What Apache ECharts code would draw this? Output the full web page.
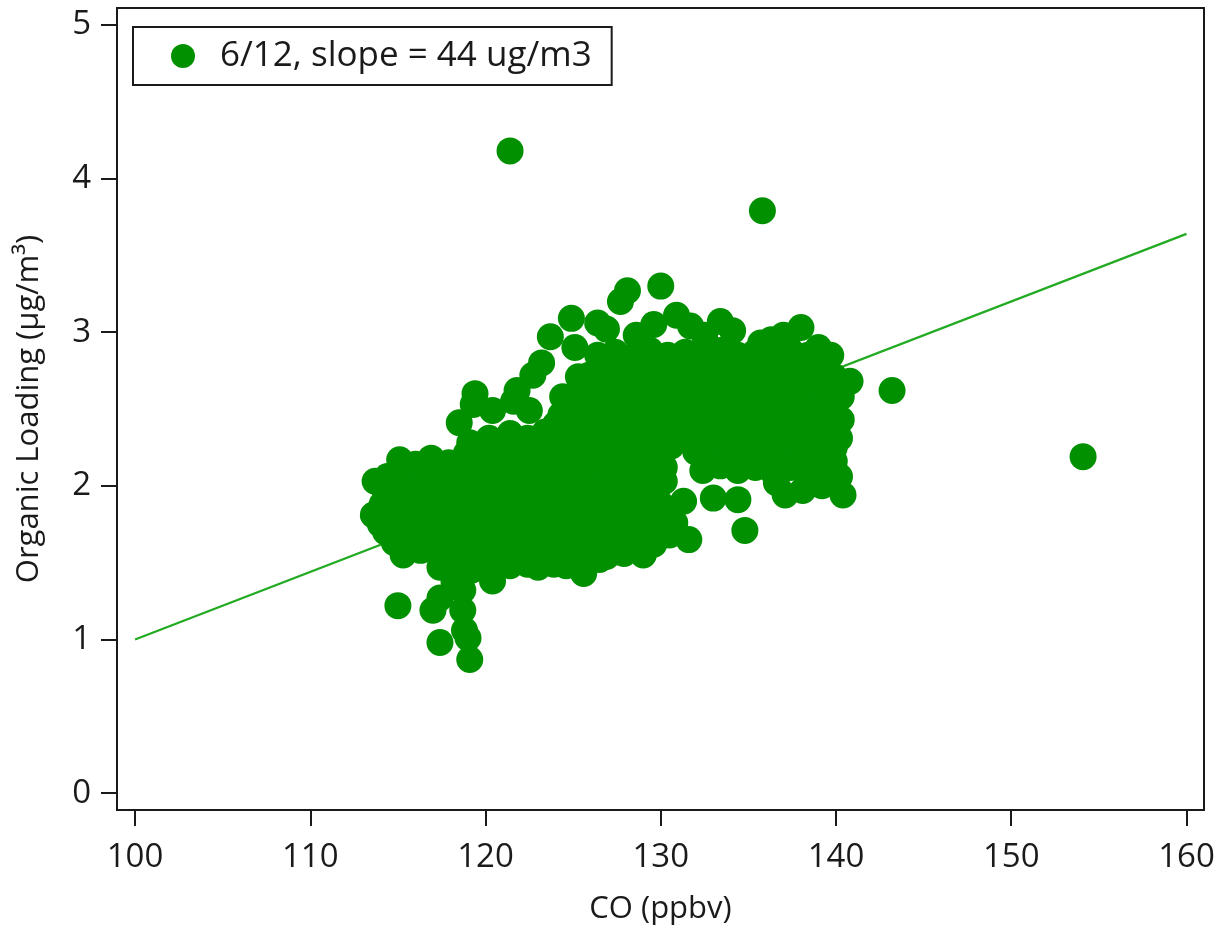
<!DOCTYPE html>
<html>
<head>
<meta charset="utf-8">
<title>Organic Loading vs CO</title>
<script src="https://cdn.jsdelivr.net/npm/echarts@6/dist/echarts.min.js"></script>
<style>
  html, body { margin: 0; padding: 0; background: #fff; }
  #chart { width: 1221px; height: 930px; }
</style>
</head>
<body>
<div id="chart"></div>
<script>
// 6/12 observations: [CO (ppbv), organic loading (µg/m³)]
const obs612 = [
  // isolated points
  [121.4, 4.18], [135.8, 3.79], [143.2, 2.62], [154.1, 2.19], [115.0, 1.22],
  // low tail
  [117.4, 1.47], [117.4, 1.27], [117.0, 1.19], [118.7, 1.19], [118.7, 1.32],
  [118.8, 1.06], [117.4, 0.98], [119.1, 0.87], [118.2, 1.38], [119.2, 1.45], [119.0, 1.01],
  // upper-left chain
  [124.9, 3.09], [126.4, 3.06], [123.7, 2.97], [125.1, 2.90], [123.2, 2.80], [122.7, 2.72],
  [121.8, 2.62], [121.6, 2.55], [119.4, 2.60], [118.5, 2.41], [119.3, 2.53], [120.4, 2.49],
  [122.5, 2.49], [127.7, 3.20], [128.1, 3.27], [130.0, 3.30], [130.9, 3.11], [129.6, 3.05],
  [126.9, 3.02],
  // upper edge of the high cluster
  [131.7, 3.04], [133.4, 3.07], [134.1, 3.01], [135.7, 2.93], [137.0, 2.98], [138.0, 3.03],
  [132.5, 2.98], [136.3, 2.95], [128.6, 2.98], [139.7, 2.85], [140.8, 2.68],
  // ~2.85
  [126.4, 2.85], [127.4, 2.87], [128.4, 2.84], [129.4, 2.88], [130.4, 2.85], [131.4, 2.87],
  [132.4, 2.84], [133.4, 2.88], [134.4, 2.85], [135.4, 2.87], [136.4, 2.84], [137.4, 2.88],
  [138.4, 2.85], [139.0, 2.90],
  // ~2.79
  [126.9, 2.80], [128.1, 2.78], [129.2, 2.81], [130.1, 2.79], [131.2, 2.80], [132.1, 2.78],
  [133.2, 2.81], [134.1, 2.79], [135.2, 2.80], [136.1, 2.78], [137.2, 2.81], [138.1, 2.79],
  [139.2, 2.78],
  // ~2.73
  [125.3, 2.71], [125.9, 2.72], [126.9, 2.74], [127.9, 2.71], [128.9, 2.75], [129.9, 2.72],
  [130.9, 2.74], [131.9, 2.71], [132.9, 2.75], [133.9, 2.72], [134.9, 2.74], [135.9, 2.71],
  [136.9, 2.75], [137.9, 2.72], [138.9, 2.74], [139.9, 2.71],
  // ~2.66
  [125.6, 2.66], [126.6, 2.67], [127.7, 2.65], [128.6, 2.68], [129.7, 2.66], [130.6, 2.67],
  [131.7, 2.65], [132.6, 2.68], [133.7, 2.66], [134.6, 2.67], [135.7, 2.65], [136.6, 2.68],
  [137.7, 2.66], [138.6, 2.67], [139.7, 2.65], [140.4, 2.66],
  // ~2.60
  [124.4, 2.58], [125.4, 2.61], [126.4, 2.59], [127.4, 2.62], [128.4, 2.58], [129.4, 2.61],
  [130.4, 2.59], [131.4, 2.62], [132.4, 2.58], [133.4, 2.61], [134.4, 2.59], [135.4, 2.62],
  [136.4, 2.58], [137.4, 2.61], [138.4, 2.59], [139.4, 2.62], [140.3, 2.58],
  // ~2.53
  [124.8, 2.53], [125.7, 2.54], [126.8, 2.52], [127.7, 2.55], [128.8, 2.53], [129.7, 2.54],
  [130.8, 2.52], [131.7, 2.55], [132.8, 2.53], [133.7, 2.54], [134.8, 2.52], [135.7, 2.55],
  [136.8, 2.53], [137.7, 2.54], [138.8, 2.52], [139.7, 2.55],
  // ~2.47
  [124.3, 2.46], [124.9, 2.48], [125.9, 2.45], [126.9, 2.49], [127.9, 2.46], [128.9, 2.48],
  [129.9, 2.45], [130.9, 2.49], [131.9, 2.46], [132.9, 2.48], [133.9, 2.45], [134.9, 2.49],
  [135.9, 2.46], [136.9, 2.48], [137.9, 2.45], [138.9, 2.49], [139.9, 2.46], [140.3, 2.43],
  // ~2.40
  [124.0, 2.40], [125.1, 2.41], [126.1, 2.39], [127.2, 2.42], [128.1, 2.40], [129.2, 2.41],
  [130.1, 2.39], [131.2, 2.42], [132.1, 2.40], [133.2, 2.41], [134.1, 2.39], [135.2, 2.42],
  [136.1, 2.40], [137.2, 2.41], [138.1, 2.39], [139.2, 2.42],
  // ~2.34
  [119.1, 2.28], [120.2, 2.31], [121.4, 2.34], [122.4, 2.31], [123.4, 2.35], [124.4, 2.33],
  [125.4, 2.35], [126.4, 2.32], [127.4, 2.36], [128.4, 2.33], [129.4, 2.35], [130.4, 2.32],
  [131.4, 2.36], [132.4, 2.33], [133.4, 2.35], [134.4, 2.32], [135.4, 2.36], [136.4, 2.33],
  [137.4, 2.35], [138.4, 2.32], [139.4, 2.36], [140.2, 2.31],
  // ~2.27
  [119.7, 2.25], [120.8, 2.27], [121.9, 2.26], [122.9, 2.28], [123.9, 2.27], [124.9, 2.26],
  [125.9, 2.28], [126.9, 2.27], [127.9, 2.26], [128.9, 2.28], [129.9, 2.27], [130.9, 2.30],
  [131.9, 2.28], [132.9, 2.27], [133.9, 2.26], [134.9, 2.28], [135.9, 2.27], [136.9, 2.26],
  [137.9, 2.28], [138.9, 2.27], [139.9, 2.25],
  // ~2.20
  [115.1, 2.17], [116.0, 2.14], [116.9, 2.18], [117.9, 2.15], [118.9, 2.21], [119.9, 2.18],
  [120.9, 2.21], [121.9, 2.19], [122.9, 2.22], [123.9, 2.20], [124.9, 2.21], [125.9, 2.19],
  [126.9, 2.22], [127.9, 2.20], [128.9, 2.21], [129.9, 2.21], [130.6, 2.26],
  [132.0, 2.22], [132.9, 2.19], [133.9, 2.21], [134.9, 2.18], [135.9, 2.22], [136.9, 2.19],
  [137.9, 2.21], [138.9, 2.18], [139.9, 2.16],
  // ~2.14
  [115.6, 2.13], [116.6, 2.12], [117.6, 2.13], [118.6, 2.11], [119.6, 2.14], [120.6, 2.12],
  [121.6, 2.15], [122.6, 2.13], [123.6, 2.14], [124.6, 2.12], [125.6, 2.15], [126.6, 2.13],
  [127.6, 2.14], [128.6, 2.12], [129.6, 2.15], [130.2, 2.12],
  [132.8, 2.16], [133.8, 2.15], [134.8, 2.16], [135.8, 2.14], [136.8, 2.16], [137.8, 2.15],
  [138.8, 2.14], [139.6, 2.15],
  // ~2.08, low cluster
  [114.4, 2.06], [115.4, 2.08], [116.4, 2.05], [117.4, 2.09], [118.4, 2.06], [119.4, 2.09],
  [120.4, 2.06], [121.4, 2.08], [122.4, 2.05], [123.4, 2.09], [124.4, 2.06], [125.4, 2.08],
  [126.4, 2.05], [127.4, 2.09], [128.4, 2.06], [129.4, 2.08], [130.2, 2.03],
  // ~2.10, lower edge of the high cluster
  [132.4, 2.10], [133.4, 2.13], [134.4, 2.10], [135.4, 2.12], [136.4, 2.09], [137.4, 2.12],
  [138.4, 2.08], [139.4, 2.11], [140.2, 2.06],
  // below the high cluster
  [133.0, 1.92], [134.4, 1.91], [137.1, 1.94], [138.1, 1.97], [140.4, 1.94], [136.6, 2.02],
  [139.2, 2.00],
  // ~2.01
  [114.1, 2.00], [115.1, 2.01], [116.1, 1.99], [117.1, 2.02], [118.1, 2.00], [119.1, 2.01],
  [120.1, 1.99], [121.1, 2.02], [122.1, 2.00], [123.1, 2.01], [124.1, 1.99], [125.1, 2.02],
  [126.1, 2.00], [127.1, 2.01], [128.1, 1.99], [129.1, 2.02], [129.9, 2.00],
  // ~1.95
  [113.7, 2.03], [114.9, 1.95], [115.9, 1.97], [116.9, 1.94], [117.9, 1.98], [118.9, 1.95],
  [119.9, 1.97], [120.9, 1.94], [121.9, 1.98], [122.9, 1.95], [123.9, 1.97], [124.9, 1.94],
  [125.9, 1.98], [126.9, 1.95], [127.9, 1.97], [128.9, 1.94], [129.7, 1.97], [131.3, 1.90],
  // ~1.88
  [114.1, 1.88], [115.1, 1.89], [116.1, 1.87], [117.1, 1.90], [118.1, 1.88], [119.1, 1.89],
  [120.1, 1.87], [121.1, 1.90], [122.1, 1.88], [123.1, 1.89], [124.1, 1.87], [125.1, 1.90],
  [126.1, 1.88], [127.1, 1.89], [128.1, 1.87], [129.1, 1.90], [130.0, 1.88],
  // ~1.82
  [113.6, 1.81], [114.4, 1.83], [115.4, 1.80], [116.4, 1.84], [117.4, 1.81], [118.4, 1.83],
  [119.4, 1.80], [120.4, 1.84], [121.4, 1.81], [122.4, 1.83], [123.4, 1.80], [124.4, 1.84],
  [125.4, 1.81], [126.4, 1.83], [127.4, 1.80], [128.4, 1.84], [129.4, 1.81], [130.3, 1.83],
  // ~1.75
  [114.0, 1.75], [114.9, 1.76], [115.9, 1.74], [116.9, 1.77], [117.9, 1.75], [118.9, 1.76],
  [119.9, 1.74], [120.9, 1.77], [121.9, 1.75], [122.9, 1.76], [123.9, 1.74], [124.9, 1.77],
  [125.9, 1.75], [126.9, 1.76], [127.9, 1.74], [128.9, 1.77], [129.8, 1.75], [130.8, 1.76],
  // ~1.69
  [114.3, 1.70], [115.2, 1.68], [115.9, 1.71], [116.9, 1.67], [117.9, 1.70], [118.9, 1.68],
  [119.9, 1.71], [120.9, 1.67], [121.9, 1.70], [122.9, 1.68], [123.9, 1.71], [124.9, 1.67],
  [125.9, 1.70], [126.9, 1.68], [127.9, 1.71], [128.9, 1.69], [130.5, 1.68], [131.6, 1.65],
  [134.8, 1.71],
  // ~1.62
  [114.8, 1.63], [115.8, 1.62], [116.8, 1.64], [117.8, 1.61], [118.8, 1.63], [119.8, 1.62],
  [120.8, 1.64], [121.8, 1.61], [122.8, 1.63], [123.8, 1.62], [124.8, 1.64], [125.8, 1.61],
  [126.8, 1.63], [127.8, 1.62], [128.8, 1.64], [129.6, 1.62],
  // ~1.57
  [115.3, 1.55], [116.3, 1.58], [117.4, 1.56], [118.4, 1.58], [119.4, 1.55], [120.4, 1.57],
  [121.4, 1.54], [122.4, 1.58], [123.4, 1.55], [124.4, 1.57], [125.4, 1.54], [126.4, 1.58],
  [127.4, 1.57], [128.3, 1.62], [129.0, 1.55],
  // ~1.51
  [117.9, 1.51], [118.9, 1.52], [119.9, 1.50], [120.9, 1.52], [121.9, 1.51], [122.9, 1.53],
  [123.4, 1.50], [124.9, 1.52], [125.9, 1.55], [126.9, 1.54], [127.9, 1.56],
  // lower edge
  [119.4, 1.48], [120.4, 1.38], [121.4, 1.48], [122.4, 1.49], [123.0, 1.47], [123.9, 1.49],
  [124.6, 1.48], [125.6, 1.43], [126.5, 1.52]
];

// Linear fit, slope 0.044 µg/m³ per ppbv (44 per ppmv)
const fitCo = [100, 160];
const fitOrganic = [1.00, 3.64];

const coTicks = [100, 110, 120, 130, 140, 150, 160];
const organicTicks = [0, 1, 2, 3, 4, 5];

const legendLabel = '6/12, slope = 44 ug/m3';

const FONT = '"Open Sans", "Noto Sans", sans-serif';
const INK = '#1a1a1a';
const MARK = '#009000';

const chart = echarts.init(document.getElementById('chart'), null, { renderer: 'canvas' });

chart.setOption({
  animation: false,
  backgroundColor: '#ffffff',
  grid: {
    left: 117, right: 17, top: 8, bottom: 118,
    show: true, borderColor: INK, borderWidth: 2, backgroundColor: 'transparent'
  },
  legend: {
    left: 133, top: 27,
    data: [legendLabel],
    icon: 'circle',
    itemWidth: 24, itemHeight: 24,
    padding: [10, 20, 10, 38],
    borderColor: INK, borderWidth: 2, borderRadius: 0,
    backgroundColor: '#ffffff',
    itemStyle: { color: MARK, borderWidth: 0, opacity: 1 },
    textStyle: { fontFamily: FONT, fontSize: 35, color: INK, lineHeight: 38, padding: [0, 0, 0, 20] }
  },
  xAxis: {
    type: 'value',
    min: 98.97, max: 161.0,
    name: 'CO (ppbv)',
    nameLocation: 'middle',
    nameGap: 84,
    nameTextStyle: { fontFamily: FONT, fontSize: 31, color: INK },
    splitLine: { show: false },
    axisLine: { show: true, onZero: false, lineStyle: { color: INK, width: 2 } },
    axisTick: { show: true, length: 16, inside: false, customValues: coTicks, lineStyle: { color: INK, width: 2 } },
    axisLabel: { customValues: coTicks, margin: 31, fontFamily: FONT, fontSize: 33, color: INK }
  },
  yAxis: {
    type: 'value',
    min: -0.11, max: 5.11,
    name: 'Organic Loading (µg/m³)',
    nameLocation: 'middle',
    nameGap: 72,
    nameRotate: 90,
    nameTextStyle: { fontFamily: FONT, fontSize: 31, color: INK },
    splitLine: { show: false },
    axisLine: { show: true, onZero: false, lineStyle: { color: INK, width: 2 } },
    axisTick: { show: true, length: 16, inside: false, customValues: organicTicks, lineStyle: { color: INK, width: 2 } },
    axisLabel: { customValues: organicTicks, margin: 26, fontFamily: FONT, fontSize: 33, color: INK }
  },
  series: [
    {
      name: 'fit',
      type: 'line',
      data: fitCo.map((c, i) => [c, fitOrganic[i]]),
      showSymbol: false,
      symbol: 'none',
      lineStyle: { color: '#22aa22', width: 2.2 },
      z: 1,
      silent: true
    },
    {
      name: legendLabel,
      type: 'scatter',
      data: obs612,
      symbol: 'circle',
      symbolSize: 27,
      itemStyle: { color: MARK, opacity: 1, borderWidth: 0, borderColor: MARK },
      emphasis: { disabled: true },
      z: 2
    }
  ]
});
</script>
</body>
</html>
